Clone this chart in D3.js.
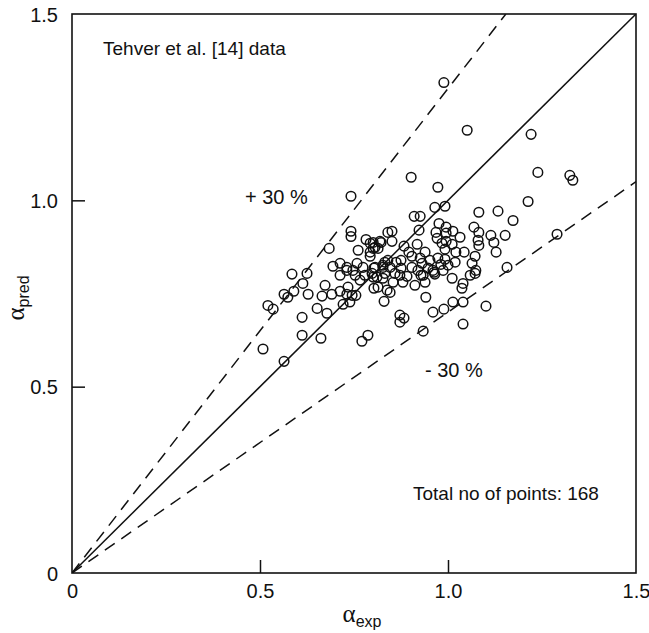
<!DOCTYPE html>
<html>
<head>
<meta charset="utf-8">
<script src="https://cdn.jsdelivr.net/npm/d3@7"></script>
<style>
  body { margin: 0; background: #fff; }
  text { font-family: "Liberation Sans", Arial, sans-serif; fill: #111; }
</style>
</head>
<body>
<div id="root"></div>
<script>
var alphaExp = [
  0.989, 1.051, 0.902, 0.742, 0.973, 1.221, 1.239, 1.324, 1.332, 0.965,
  0.992, 0.910, 0.926, 1.082, 1.133, 1.213, 0.976, 1.173, 0.742, 0.742,
  0.782, 0.793, 0.822, 0.840, 0.851, 0.851, 0.819, 0.801, 0.923, 0.995,
  0.968, 0.971, 0.995, 1.013, 1.032, 0.995, 1.069, 1.082, 1.080, 1.082,
  1.114, 1.122, 1.152, 1.290, 0.984, 0.684, 0.761, 0.801, 0.814, 0.793,
  0.793, 0.806, 0.883, 0.896, 0.904, 0.939, 0.992, 1.021, 1.043, 1.072,
  1.128, 0.926, 0.832, 0.952, 0.931, 0.840, 0.875, 0.846, 0.875, 0.904,
  0.973, 0.981, 0.992, 0.960, 0.987, 1.000, 1.064, 1.074, 1.157, 0.827,
  0.806, 0.694, 0.713, 0.731, 0.758, 0.774, 0.803, 0.827, 0.585, 0.625,
  0.934, 0.859, 0.798, 0.811, 0.920, 0.963, 0.753, 0.801, 0.832, 0.872,
  0.891, 0.928, 0.965, 1.011, 1.059, 1.072, 0.880, 0.912, 0.939, 1.040,
  1.037, 0.766, 0.803, 0.814, 0.827, 0.838, 0.614, 0.628, 0.564, 0.574,
  0.590, 0.673, 0.665, 0.691, 0.713, 0.734, 0.731, 0.745, 0.755, 0.846,
  0.941, 0.731, 0.747, 0.721, 0.739, 0.830, 0.652, 0.678, 0.612, 0.521,
  0.535, 0.872, 0.883, 0.872, 0.960, 0.989, 1.013, 1.040, 1.101, 1.040,
  0.934, 0.612, 0.662, 0.771, 0.787, 0.508, 0.564, 0.862, 0.947, 1.019,
  0.779, 0.713, 0.918, 1.011, 0.854
];

var alphaPred = [
  1.316, 1.188, 1.062, 1.011, 1.035, 1.177, 1.075, 1.067, 1.054, 0.981,
  0.984, 0.957, 0.957, 0.968, 0.971, 0.997, 0.938, 0.946, 0.917, 0.903,
  0.895, 0.885, 0.887, 0.914, 0.917, 0.890, 0.890, 0.887, 0.920, 0.928,
  0.914, 0.898, 0.912, 0.917, 0.901, 0.890, 0.928, 0.914, 0.893, 0.879,
  0.906, 0.887, 0.906, 0.909, 0.885, 0.871, 0.866, 0.871, 0.871, 0.861,
  0.850, 0.874, 0.877, 0.861, 0.850, 0.861, 0.869, 0.861, 0.861, 0.850,
  0.861, 0.845, 0.834, 0.839, 0.831, 0.839, 0.839, 0.820, 0.818, 0.820,
  0.845, 0.828, 0.842, 0.812, 0.812, 0.826, 0.831, 0.812, 0.820, 0.820,
  0.820, 0.823, 0.831, 0.820, 0.831, 0.820, 0.818, 0.826, 0.802, 0.804,
  0.799, 0.804, 0.804, 0.794, 0.812, 0.807, 0.799, 0.794, 0.804, 0.799,
  0.796, 0.799, 0.802, 0.791, 0.799, 0.804, 0.780, 0.772, 0.780, 0.777,
  0.764, 0.786, 0.764, 0.767, 0.791, 0.759, 0.777, 0.748, 0.748, 0.740,
  0.756, 0.772, 0.743, 0.748, 0.756, 0.767, 0.748, 0.745, 0.745, 0.753,
  0.740, 0.812, 0.812, 0.721, 0.727, 0.729, 0.710, 0.697, 0.686, 0.718,
  0.708, 0.692, 0.684, 0.673, 0.700, 0.708, 0.727, 0.727, 0.716, 0.668,
  0.649, 0.638, 0.630, 0.622, 0.638, 0.601, 0.568, 0.834, 0.818, 0.834,
  0.799, 0.799, 0.882, 0.882, 0.780
];

var tickValues = [0, 0.5, 1.0, 1.5];
var tickLabels = ['0', '0.5', '1.0', '1.5'];
var boundSlopes = [1.3, 0.7];

var data = alphaExp.map((x, i) => ({ x: x, y: alphaPred[i] }));

var margin = { top: 14, right: 13, bottom: 60, left: 72 },
  width = 649 - margin.left - margin.right,
  height = 633 - margin.top - margin.bottom;

var svg = d3.select('#root')
  .append('svg')
    .attr('width', 649)
    .attr('height', 633);

var g = svg.append('g')
  .attr('transform', 'translate(' + margin.left + ', ' + margin.top + ')');

var xScale = d3.scaleLinear()
  .domain([0, 1.5])
  .range([0, width]);

var yScale = d3.scaleLinear()
  .domain([0, 1.5])
  .range([height, 0]);

// axes with inward ticks, labels only at the listed ticks
var xAxisCall = d3.axisBottom(xScale)
  .tickValues(tickValues)
  .tickSize(-13)
  .tickPadding(11)
  .tickFormat((d, i) => tickLabels[i]);

var yAxisCall = d3.axisLeft(yScale)
  .tickValues(tickValues)
  .tickSize(-13)
  .tickPadding(14)
  .tickFormat((d, i) => tickLabels[i]);

g.append('g')
  .attr('class', 'x-axis')
  .attr('transform', 'translate(0, ' + height + ')')
  .call(xAxisCall);

g.append('g')
  .attr('class', 'y-axis')
  .call(yAxisCall);

g.selectAll('.domain').remove();
g.selectAll('.tick line')
  .attr('stroke', '#111')
  .attr('stroke-width', 1.5)
  .filter(d => d === 0 || d === 1.5)
  .remove();
g.selectAll('.tick text')
  .attr('font-size', '20px')
  .attr('fill', '#111');
g.selectAll('.y-axis .tick text').attr('dy', '0.35em');

// frame
g.append('rect')
  .attr('x', 0)
  .attr('y', 0)
  .attr('width', width)
  .attr('height', height)
  .attr('fill', 'none')
  .attr('stroke', '#111')
  .attr('stroke-width', 1.6);

svg.append('clipPath')
  .attr('id', 'plot-clip')
  .append('rect')
    .attr('width', width)
    .attr('height', height);

var lines = g.append('g').attr('clip-path', 'url(#plot-clip)');

lines.append('line')
  .attr('x1', xScale(0))
  .attr('y1', yScale(0))
  .attr('x2', xScale(1.5))
  .attr('y2', yScale(1.5))
  .attr('stroke', '#111')
  .attr('stroke-width', 1.5);

lines.selectAll('.bound')
  .data(boundSlopes)
  .enter()
  .append('line')
    .attr('class', 'bound')
    .attr('x1', xScale(0))
    .attr('y1', yScale(0))
    .attr('x2', s => xScale(Math.min(1.5, 1.5 / s)))
    .attr('y2', s => yScale(Math.min(1.5, 1.5 * s)))
    .attr('stroke', '#111')
    .attr('stroke-width', 1.5)
    .attr('stroke-dasharray', '12,8');

g.selectAll('circle')
  .data(data)
  .enter()
  .append('circle')
    .attr('cx', d => xScale(d.x))
    .attr('cy', d => yScale(d.y))
    .attr('r', 4.8)
    .attr('fill', 'none')
    .attr('stroke', '#111')
    .attr('stroke-width', 1.5);

// annotations
g.append('text')
  .attr('x', 31)
  .attr('y', 41)
  .attr('font-size', '19px')
  .text('Tehver et al. [14] data');

g.append('text')
  .attr('x', 173)
  .attr('y', 190)
  .attr('font-size', '20px')
  .text('+ 30 %');

g.append('text')
  .attr('x', 353)
  .attr('y', 363)
  .attr('font-size', '20px')
  .text('- 30 %');

g.append('text')
  .attr('x', 341)
  .attr('y', 486)
  .attr('font-size', '19px')
  .text('Total no of points: 168');

// axis titles
var xTitle = svg.append('text')
  .attr('x', 362)
  .attr('y', 622)
  .attr('text-anchor', 'middle')
  .attr('font-size', '25px');
xTitle.append('tspan')
  .style('font-family', '"Liberation Serif", serif')
  .text('α');
xTitle.append('tspan')
  .attr('font-size', '16px')
  .attr('dy', 5)
  .text('exp');

var yTitle = svg.append('text')
  .attr('transform', 'translate(24, 298) rotate(-90)')
  .attr('text-anchor', 'middle')
  .attr('font-size', '25px');
yTitle.append('tspan')
  .style('font-family', '"Liberation Serif", serif')
  .text('α');
yTitle.append('tspan')
  .attr('font-size', '16px')
  .attr('dy', 5)
  .text('pred');
</script>
</body>
</html>
